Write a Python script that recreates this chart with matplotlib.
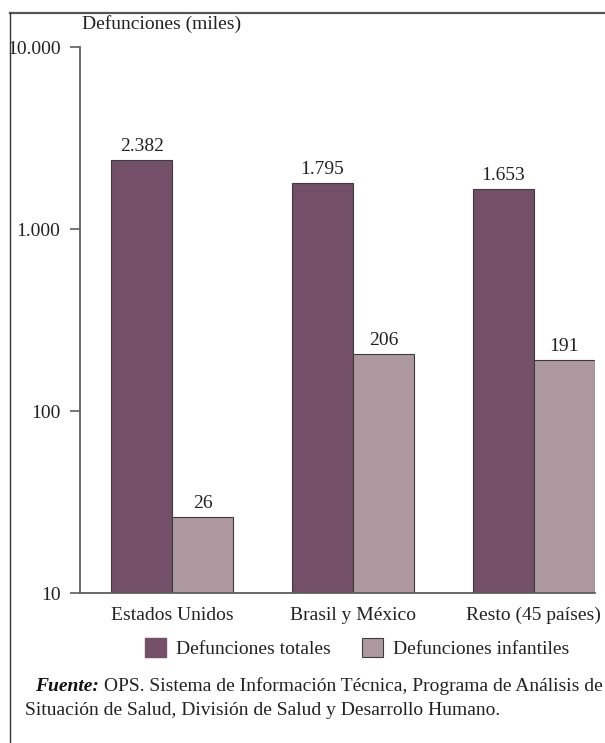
import numpy as np
import matplotlib.pyplot as plt
from matplotlib.lines import Line2D
from matplotlib.patches import Patch

plt.rcParams['font.family'] = ['Liberation Serif', 'DejaVu Serif']

grupos = ['Estados Unidos', 'Brasil y México', 'Resto (45 países)']
totales = [2382, 1795, 1653]
infantiles = [26, 206, 191]
yticks = [10, 100, 1000, 10000]
ytick_labels = ['10', '100', '1.000', '10.000']

color_tot = '#735068'
color_inf = '#ae98a0'
borde = '#3c3c3c'
gris = '#5e5e5e'
texto = '#222222'

W, H = 605, 743
fig = plt.figure(figsize=(W / 100, H / 100), dpi=100)
ax = fig.add_axes([80 / W, 1 - 593 / H, 515 / W, 546 / H])

x = np.arange(len(grupos))
w = 0.338
b1 = ax.bar(x - w / 2, totales, w, color=color_tot, edgecolor=borde, linewidth=0.8)
b2 = ax.bar(x + w / 2, infantiles, w, color=color_inf, edgecolor=borde, linewidth=0.8)

def etiqueta(v):
    return f'{v:,}'.replace(',', '.')

for barras, vals in [(b1, totales), (b2, infantiles)]:
    for r, v in zip(barras, vals):
        ax.annotate(etiqueta(v), (r.get_x() + r.get_width() / 2, v),
                    xytext=(0, 5), textcoords='offset pixels',
                    ha='center', va='bottom', fontsize=14, color=texto)

ax.set_yscale('log')
ax.set_ylim(10, 10000)
ax.set_yticks(yticks)
ax.set_yticklabels(ytick_labels)
ax.yaxis.set_minor_locator(plt.NullLocator())
ax.set_xlim(-0.51, 2 + w)
ax.set_xticks(x)
ax.set_xticklabels(grupos)

ax.tick_params(axis='y', length=7, width=1.2, color=gris, pad=7, labelsize=14, labelcolor=texto)
ax.tick_params(axis='x', length=0, pad=10, labelsize=14, labelcolor=texto)
for s in ['top', 'right']:
    ax.spines[s].set_visible(False)
for s in ['left', 'bottom']:
    ax.spines[s].set_color(gris)
    ax.spines[s].set_linewidth(1.3)

fig.text(82 / W, 1 - 24 / H, 'Defunciones (miles)', ha='left', va='center',
         fontsize=14, color=texto)

handles = [Patch(facecolor=color_tot, edgecolor=color_tot, label='Defunciones totales'),
           Patch(facecolor=color_inf, edgecolor=borde, linewidth=0.8, label='Defunciones infantiles')]
fig.legend(handles=handles, loc='center', bbox_to_anchor=(357 / W, 1 - 648 / H),
           ncol=2, frameon=False, fontsize=14, handlelength=1.1, handleheight=1.1,
           handletextpad=0.5, columnspacing=1.6, labelcolor=texto)

# nota de fuente: el resto de la linea va pegado al borde derecho
y1 = 1 - 691 / H
resto = fig.text(603 / W, y1, 'OPS. Sistema de Información Técnica, Programa de Análisis de',
                 ha='right', va='baseline', fontsize=14, color=texto)
rend = fig.canvas.get_renderer()
x0 = resto.get_window_extent(rend).x0 - 5
fig.text(x0 / W, y1, 'Fuente:', ha='right', va='baseline', fontsize=14,
         fontweight='bold', fontstyle='italic', color='#111111')

fig.text(25 / W, 1 - 715 / H,
         'Situación de Salud, División de Salud y Desarrollo Humano.',
         ha='left', va='baseline', fontsize=14, color=texto)

# marco
fig.add_artist(Line2D([10 / W, 1], [1 - 13 / H, 1 - 13 / H], transform=fig.transFigure,
                      color='#555555', linewidth=1.6))
fig.add_artist(Line2D([10 / W, 10 / W], [0, 1 - 13 / H], transform=fig.transFigure,
                      color='#333333', linewidth=1.0))

fig.savefig('out.png', dpi=100)
